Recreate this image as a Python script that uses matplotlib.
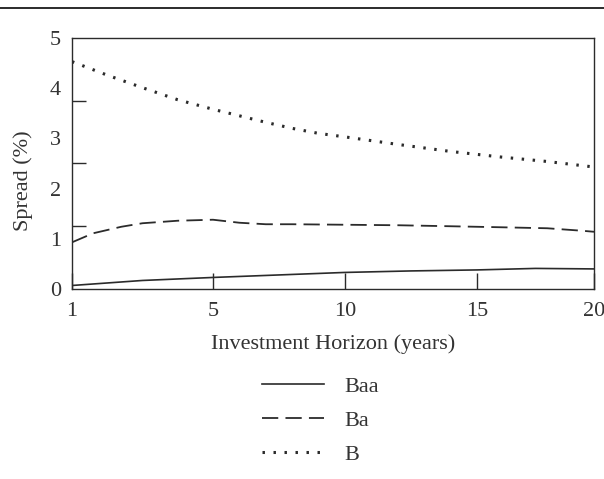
import matplotlib
matplotlib.use('Agg')
import numpy as np
from matplotlib import pyplot as plt
from matplotlib.lines import Line2D
from matplotlib.ticker import FixedLocator

plt.rcParams['font.family'] = ['Liberation Serif', 'DejaVu Serif']

# spread by investment horizon
baa_years = [1, 2, 3, 4, 5, 7, 10, 12.5, 15, 17.5, 20]
baa = [0.07, 0.12, 0.17, 0.20, 0.23, 0.27, 0.33, 0.36, 0.38, 0.41, 0.40]

ba_years = [1, 1.6, 2.4, 3, 4, 5, 6, 7, 8, 10, 12, 14, 16, 18, 19.5, 20]
ba = [0.93, 1.11, 1.24, 1.31, 1.36, 1.38, 1.32, 1.29, 1.29, 1.28, 1.27, 1.25, 1.23, 1.21, 1.16, 1.14]

b_years = [1, 2, 3, 4, 5, 6, 7, 8, 9, 10, 12, 14, 16, 18, 20]
b = [4.53, 4.26, 4.01, 3.77, 3.58, 3.45, 3.32, 3.20, 3.10, 3.03, 2.88, 2.74, 2.63, 2.54, 2.43]

x_ticks = [1, 5, 10, 15, 20]
y_ticks = [0, 1, 2, 3, 4, 5]
y_marks = [1.25, 2.5, 3.75]

# the horizon axis is not linear in the original: labels sit roughly evenly
anchor_yrs = [-80, 1, 5, 10, 15, 20, 120]
anchor_pos = [-80 * 27.5 + 72 - 27.5, 72, 213, 345, 477, 594, 594 + 100 * 23.4]

def fwd(x):
    return np.interp(x, anchor_yrs, anchor_pos)

def inv(p):
    return np.interp(p, anchor_pos, anchor_yrs)

ink = '#2b2b2b'
fs = 16
fig = plt.figure(figsize=(6.04, 4.79), dpi=100)
ax = fig.add_axes([72 / 604, 1 - 289 / 479, 522 / 604, 251 / 479])
ax.set_xscale('function', functions=(fwd, inv))

ax.plot(baa_years, baa, color=ink, lw=1.2, label='Baa')
ax.plot(ba_years, ba, color=ink, lw=1.3, dashes=(9, 4), label='Ba')
ax.plot(b_years, b, color=ink, lw=2.2, dashes=(0.8, 2.8), label='B')

ax.set_xlim(1, 20)
ax.set_ylim(0, 5)
ax.set_xticks(x_ticks)
ax.set_xticklabels([str(v) for v in x_ticks])
ax.set_yticks(y_ticks)
ax.yaxis.set_minor_locator(FixedLocator(y_marks))
ax.xaxis.set_minor_locator(FixedLocator([]))
ax.tick_params(axis='x', direction='in', length=11.5, width=1.0, color=ink,
               labelsize=fs, pad=9, labelcolor='#333')
ax.tick_params(axis='y', which='major', length=0, labelsize=fs, pad=8, labelcolor='#333')
ax.tick_params(axis='y', which='minor', direction='in', length=10, width=1.0, color=ink)
for s in ax.spines.values():
    s.set_color(ink)
    s.set_linewidth(1.0)

ax.set_xlabel('Investment Horizon (years)', fontsize=fs, color='#333', labelpad=10)
ax.set_ylabel('Spread (%)', fontsize=fs, color='#333')
ax.yaxis.set_label_coords(-0.074, 0.43)

fig.legend(loc='upper left', bbox_to_anchor=(262 / 604, 1 - 376 / 479), frameon=False,
           fontsize=fs, handlelength=2.8, handletextpad=0.9, labelspacing=0.62,
           borderpad=0, borderaxespad=0, labelcolor='#333')

fig.add_artist(Line2D([0, 1], [1 - 8 / 479, 1 - 8 / 479], transform=fig.transFigure,
                      color=ink, lw=1.4))

plt.savefig('out.png', dpi=100)
plt.close()
